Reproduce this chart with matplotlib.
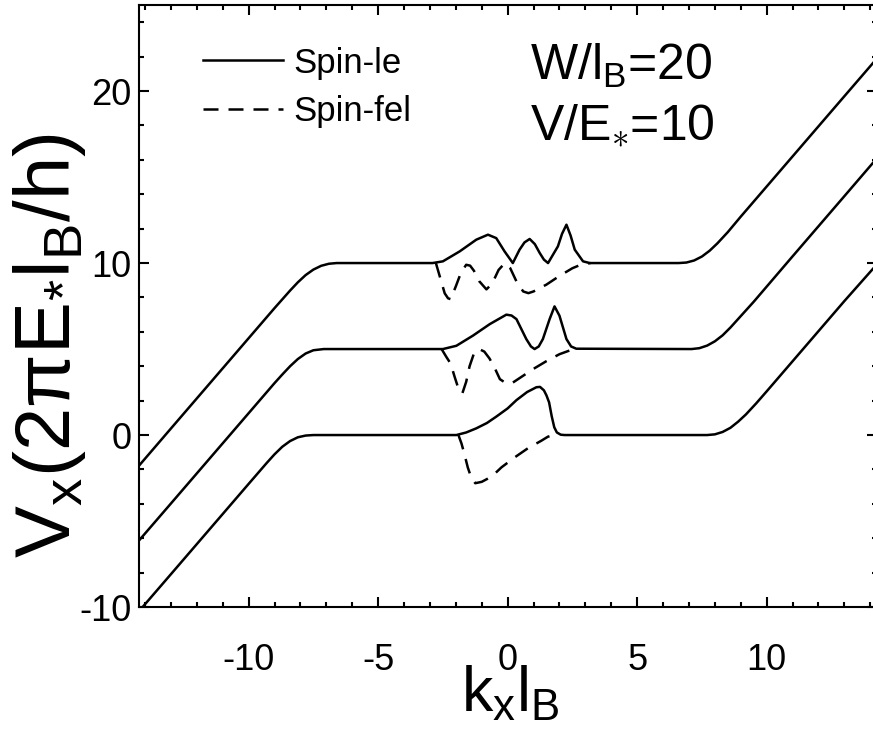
import matplotlib
matplotlib.use('Agg')
import matplotlib.pyplot as plt
from matplotlib.ticker import MultipleLocator

plt.rcParams['font.family'] = ['Liberation Sans', 'DejaVu Sans']
plt.rcParams['mathtext.fontset'] = 'custom'
plt.rcParams['mathtext.rm'] = 'Liberation Sans'
plt.rcParams['mathtext.it'] = 'Liberation Sans'
plt.rcParams['mathtext.bf'] = 'Liberation Sans:bold'
plt.rcParams['axes.unicode_minus'] = False

# spin-up (solid) curves
k_up_0 = [-14.3, -13.0, -12.0, -11.0, -10.0, -9.3, -9.0, -8.7, -8.4, -8.1, -7.8, -7.5,
          -1.98, -1.6, -1.21, -0.8, -0.44, 0.0, 0.34, 0.75, 1.11, 1.25, 1.4,
          1.5, 1.6, 1.7, 1.8, 1.9, 2.05, 2.2,
          7.7, 8.0, 8.3, 8.6, 8.9, 9.2, 9.6, 10.0, 11.0, 12.0, 13.0, 14.3]
v_up_0 = [-10.36, -8.09, -6.34, -4.59, -2.84, -1.62, -1.12, -0.68, -0.35, -0.13, -0.03, 0.0,
          0.0, 0.15, 0.39, 0.7, 1.07, 1.55, 2.03, 2.5, 2.78, 2.8, 2.6,
          2.3, 1.9, 1.1, 0.45, 0.15, 0.02, 0.0,
          0.0, 0.04, 0.18, 0.42, 0.78, 1.2, 1.85, 2.54, 4.29, 6.04, 7.79, 10.0]

k_up_5 = [-14.3, -13.0, -12.0, -11.0, -10.0, -9.0, -8.7, -8.4, -8.1, -7.8, -7.5, -7.1,
          -2.5, -1.98, -1.34, -0.69, -0.05, 0.15, 0.34, 0.72, 0.9, 1.04, 1.2,
          1.36, 1.62, 1.81, 2.0, 2.27, 2.45, 2.65,
          7.1, 7.4, 7.7, 8.0, 8.3, 8.6, 8.9, 9.5, 11.0, 12.0, 13.0, 14.3]
v_up_5 = [-6.25, -3.98, -2.23, -0.48, 1.27, 3.02, 3.52, 4.0, 4.42, 4.74, 4.93, 5.0,
          5.0, 5.19, 5.78, 6.45, 7.0, 6.95, 6.74, 5.58, 5.15, 5.0, 5.15,
          5.58, 6.74, 7.48, 6.94, 5.58, 5.15, 5.02,
          5.0, 5.05, 5.2, 5.45, 5.8, 6.25, 6.75, 7.75, 10.39, 12.14, 13.89, 16.17]

k_up_10 = [-14.3, -13.0, -12.0, -11.0, -10.0, -9.0, -8.4, -8.1, -7.8, -7.5, -7.2, -6.9, -6.6,
           -2.9, -2.5, -1.85, -1.21, -0.76, -0.44, -0.12, 0.2, 0.46, 0.65, 0.85,
           1.05, 1.24, 1.4, 1.56, 1.94, 2.1, 2.27, 2.43, 2.59, 2.91, 3.17,
           6.6, 6.9, 7.2, 7.5, 7.8, 8.1, 8.5, 9.0, 10.0, 11.0, 12.0, 13.0, 14.3]
v_up_10 = [-1.9, 0.38, 2.13, 3.88, 5.63, 7.38, 8.4, 8.88, 9.3, 9.62, 9.84, 9.96, 10.0,
           10.0, 10.1, 10.68, 11.36, 11.65, 11.45, 10.68, 10.0, 10.78, 11.2, 11.4,
           11.1, 10.58, 10.2, 10.0, 10.97, 11.7, 12.23, 11.6, 10.78, 10.1, 10.0,
           10.0, 10.03, 10.15, 10.38, 10.72, 11.15, 11.8, 12.7, 14.45, 16.2, 17.95, 19.7, 21.97]

# spin-down (dashed) curves, only where they leave the solid ones
k_dn_0 = [-1.9, -1.78, -1.66, -1.54, -1.4, -1.25, -1.0, -0.8, -0.5, -0.24,
          0.27, 0.78, 1.3, 1.55, 1.75]
v_dn_0 = [0.0, -0.5, -1.16, -1.88, -2.5, -2.8, -2.72, -2.56, -2.25, -1.88,
          -1.3, -0.77, -0.33, -0.1, 0.0]

k_dn_5 = [-2.55, -2.37, -2.2, -2.05, -1.9, -1.75, -1.6, -1.47, -1.3, -1.1,
          -0.9, -0.7, -0.5, -0.3, -0.05, 0.2, 0.5, 1.0, 1.5, 2.0, 2.4, 2.7]
v_dn_5 = [5.0, 4.55, 4.15, 3.4, 2.7, 2.42, 3.1, 4.0, 4.75, 5.0,
          4.85, 4.45, 3.9, 3.25, 3.0, 3.05, 3.35, 3.85, 4.3, 4.7, 4.92, 5.0]

k_dn_10 = [-2.77, -2.56, -2.43, -2.3, -2.2, -2.0, -1.8, -1.6, -1.45, -1.3,
           -1.1, -0.82, -0.6, -0.35, -0.12, 0.1, 0.35, 0.6, 0.8, 1.0, 1.5,
           2.0, 2.5, 2.9, 3.2]
v_dn_10 = [10.0, 8.91, 8.24, 7.95, 7.9, 8.65, 9.45, 9.9, 9.85, 9.55,
           8.95, 8.47, 8.8, 9.6, 9.98, 9.7, 8.9, 8.35, 8.25, 8.35, 8.75,
           9.25, 9.7, 9.95, 10.0]

fig = plt.figure(figsize=(8.73, 7.35), dpi=100)
ax = fig.add_axes([0.1587, 0.1741, 0.8456, 0.819])

lw = 1.8
ax.plot(k_up_0, v_up_0, color='black', lw=lw, label='Spin-le')
ax.plot(k_up_5, v_up_5, color='black', lw=lw)
ax.plot(k_up_10, v_up_10, color='black', lw=lw)
ax.plot(k_dn_0, v_dn_0, color='black', lw=lw, dashes=(6, 4), label='Spin-fel')
ax.plot(k_dn_5, v_dn_5, color='black', lw=lw, dashes=(6, 4))
ax.plot(k_dn_10, v_dn_10, color='black', lw=lw, dashes=(6, 4))

ax.set_xlim(-14.25, 14.25)
ax.set_ylim(-10, 25)
ax.xaxis.set_major_locator(MultipleLocator(5))
ax.xaxis.set_minor_locator(MultipleLocator(1))
ax.yaxis.set_major_locator(MultipleLocator(10))
ax.yaxis.set_minor_locator(MultipleLocator(2))
ax.tick_params(which='both', direction='in', top=True, right=True, width=1.5)
ax.tick_params(which='major', length=7, labelsize=26)
ax.tick_params(axis='x', which='major', pad=26)
ax.tick_params(axis='y', which='major', pad=5)
ax.tick_params(which='minor', length=3.5)
for s in ax.spines.values():
    s.set_linewidth(1.5)

ax.set_xlabel(r'$\mathrm{k_x l_B}$', fontsize=45, va='center')
ax.xaxis.set_label_coords(0.504, -0.145)
ax.set_ylabel(r'$\mathrm{V_x(2\pi E_{*} l_B/h)}$', fontsize=56,
              rotation=90, ha='center', va='center')
ax.yaxis.set_label_coords(-0.12, 0.435)

ax.legend(loc='upper left', bbox_to_anchor=(0.0874, 0.931), frameon=False,
          fontsize=25, handlelength=2.3, handletextpad=0.3, labelspacing=0.45,
          borderpad=0, borderaxespad=0)

fig.text(530 / 873, 1 - 80 / 735, r'W/l$_\mathrm{B}$=20', fontsize=36)
fig.text(530 / 873, 1 - 139 / 735, r'V/E$_{\ast}$=10', fontsize=36)

fig.savefig('out.png', dpi=100)
